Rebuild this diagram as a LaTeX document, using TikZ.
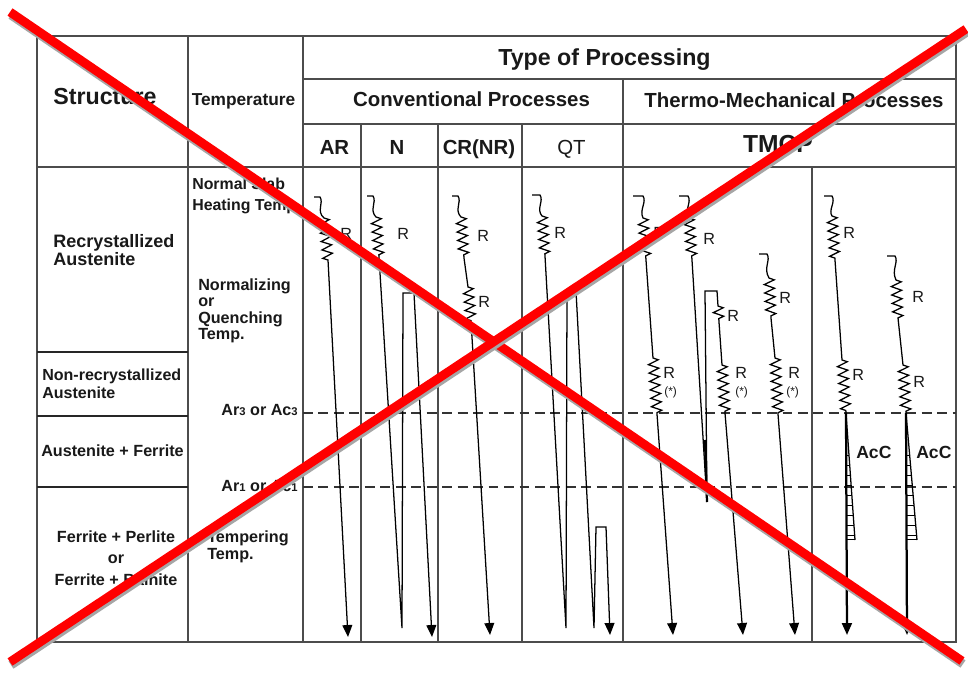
\documentclass[tikz,border=0pt]{standalone}
\usepackage{fontspec}
\setmainfont{Liberation Sans}
\usetikzlibrary{arrows.meta,decorations.pathmorphing}

\begin{document}
\begin{tikzpicture}[x=0.025cm,y=-0.025cm,>={Triangle[length=8.5pt,width=7pt]},
  grid/.style={draw=black!70,line width=0.9pt},
  sep/.style={draw=black!85,line width=2pt},
  lim/.style={draw=black!80,line width=1pt,dash pattern=on 7pt off 4pt},
  proc/.style={draw=black,line width=0.9pt},
  roll/.style={decoration={zigzag,segment length=6pt,amplitude=3.6pt}},
  every node/.append style={inner sep=0pt,text=black!90},
  big/.style={font=\bfseries\fontsize{16.5}{19}\selectfont},
  hd/.style={font=\bfseries\fontsize{14.5}{17}\selectfont},
  lbl/.style={font=\bfseries\fontsize{11.5}{13.5}\selectfont},
  rl/.style={font=\fontsize{11.5}{13}\selectfont,anchor=base west},
  star/.style={font=\fontsize{8.5}{10}\selectfont,anchor=base west},
  cross/.style={line width=6.3pt}]

\fill[white] (0,0) rectangle (968,675);
\useasboundingbox (0,0) rectangle (968,675);

% table
\draw[grid] (37,36) rectangle (956,642);
\draw[grid] (188,36) -- (188,642) (303,36) -- (303,642) (37,167) -- (956,167);
\draw[grid] (303,79) -- (956,79) (303,124) -- (956,124) (623,79) -- (623,642) (812,167) -- (812,642);
\foreach \x in {361,438,522} \draw[grid] (\x,124) -- (\x,642);
\foreach \y in {352,416,487} \draw[sep] (37,\y) -- (188,\y);
\draw[lim] (303,413) -- (956,413);
\draw[lim] (303,487) -- (956,487);

% headers
\node[big,anchor=base] (struct) at (105,105) {Structure};
\node[font=\bfseries\fontsize{12.3}{14}\selectfont,anchor=base] (temp) at (243.5,106) {Temperature};
\node[big,anchor=base] (type) at (604.5,66) {Type of Processing};
\node[hd,anchor=base] (conv) at (471.5,107) {Conventional Processes};
\node[hd,anchor=base] (thermo) at (794,108) {Thermo-Mechanical Processes};
\node[hd,anchor=base] (ar) at (334.5,155) {AR};
\node[hd,anchor=base] (n) at (397,155) {N};
\node[hd,anchor=base] (cr) at (479,155) {CR(NR)};
\node[font=\fontsize{14.5}{17}\selectfont,anchor=base] (qt) at (571.5,155) {QT};
\node[font=\bfseries\fontsize{17.5}{20}\selectfont,anchor=base] (tmcp) at (778,153) {TMCP};

% structures
\node[font=\bfseries\fontsize{12.8}{13.5}\selectfont,anchor=base west,align=left] (rex) at (53,266) {Recrystallized\\Austenite};
\node[font=\bfseries\fontsize{11.4}{13.5}\selectfont,anchor=base west,align=left] (nrex) at (42,399) {Non-recrystallized\\Austenite};
\node[lbl,anchor=base] (af) at (112.5,457) {Austenite + Ferrite};
\node[lbl,anchor=base,align=center,font=\bfseries\fontsize{11.5}{15}\selectfont] (fp) at (116,585) {Ferrite + Perlite\\or\\Ferrite + Bainite};

% temperatures
\node[lbl,anchor=base west,align=left,font=\bfseries\fontsize{11.3}{15.6}\selectfont] (slab) at (192,211) {Normal Slab\\Heating Temp.};
\node[lbl,anchor=base west,align=left,font=\bfseries\fontsize{11.5}{11.8}\selectfont] (norm) at (198,340) {Normalizing\\or\\Quenching\\Temp.};
\node[lbl,anchor=base east] (ar3) at (298,416) {Ar{\fontsize{8}{9}\selectfont3} or Ac{\fontsize{8}{9}\selectfont3}};
\node[lbl,anchor=base east] (ar1) at (298,491) {Ar{\fontsize{8}{9}\selectfont1} or Ac{\fontsize{8}{9}\selectfont1}};
\node[lbl,anchor=base west,align=left,font=\bfseries\fontsize{11.5}{11.4}\selectfont] (temper) at (207,559) {Tempering\\Temp.};

% conventional processes
\draw[proc,->] (314,197) -- (320,197) .. controls (324,203) and (316,211) .. (324,218) decorate[roll]{-- (328,260)} -- (348,637);
\draw[proc,->] (367,196) -- (373,196) .. controls (377,202) and (369,210) .. (376,217) decorate[roll]{-- (379,257)} -- (402,628) -- (403,293) -- (414,293) -- (432,637);
\draw[proc,->] (452,196) -- (458,196) .. controls (462,202) and (454,210) .. (461,217) decorate[roll]{-- (464,258)} -- (468,287) decorate[roll]{-- (471,321)} -- (490,635);
\draw[proc,->] (532,195) -- (540,195) .. controls (544,201) and (536,209) .. (542,216) decorate[roll]{-- (545,256)} -- (566,628) -- (567,291) -- (576,291) -- (594,628) -- (596,527) -- (606,527) -- (610,635);
\node[rl] (rar) at (340,240) {R};
\node[rl] (rn) at (397,240) {R};
\node[rl] (rcr1) at (477,242) {R};
\node[rl] (rcr2) at (478,308) {R};
\node[rl] (rqt) at (554,239) {R};

% TMCP
\draw[proc,->] (633,196) -- (643,196) .. controls (647,202) and (639,210) .. (643,218) decorate[roll]{-- (646,260)} -- (653,358) decorate[roll]{-- (657,414)} -- (673,635);
\draw[proc,->] (679,196) -- (688,196) .. controls (692,202) and (684,210) .. (689,218) decorate[roll]{-- (692,260)} -- (707,502) -- (705,291) -- (717,291) -- (718,306) decorate[roll]{-- (719,322)} -- (722,365) decorate[roll]{-- (725,413)} -- (743,635);
\draw[proc,line width=1.6pt] (705,440) -- (707,502);
\draw[proc,->] (759,254) -- (767,254) .. controls (771,260) and (763,268) .. (769,278) decorate[roll]{-- (771,318)} -- (775,358) decorate[roll]{-- (778,414)} -- (795,635);
\draw[proc] (824,196) -- (832,196) .. controls (836,202) and (828,210) .. (832,216) decorate[roll]{-- (835,260)} -- (842,360) decorate[roll]{-- (846,413)};
\draw[proc] (887,256) -- (895,256) .. controls (899,262) and (891,270) .. (896,280) decorate[roll]{-- (898,318)} -- (903,365) decorate[roll]{-- (906,413)};
\foreach \x/\w in {846/9,906/11}{
  \draw[proc,line width=1.6pt,->] (\x,413) -- (\x+1,635);
  \draw[proc] (\x,413) -- (\x+\w,540);
  \foreach \y in {455,465,...,535} \draw[proc,line width=0.7pt] (\x,\y) -- ({\x+\w*(\y-413)/127},\y);
  \draw[proc,line width=0.7pt] (\x,539) -- (\x+\w,539);
}
\node[rl] (rt1a) at (653,239) {R};
\node[rl] (rt1b) at (663,378) {R};
\node[star] (st1) at (664,396) {(*)};
\node[rl] (rt2a) at (703,245) {R};
\node[rl] (rt2b) at (727,322) {R};
\node[rl] (rt2c) at (735,378) {R};
\node[star] (st2) at (735,396) {(*)};
\node[rl] (rt3a) at (779,304) {R};
\node[rl] (rt3b) at (788,378) {R};
\node[star] (st3) at (786,396) {(*)};
\node[rl] (rt4a) at (843,239) {R};
\node[rl] (rt4b) at (852,380) {R};
\node[rl] (rt5a) at (912,303) {R};
\node[rl] (rt5b) at (913,388) {R};
\node[font=\bfseries\fontsize{12.5}{14}\selectfont,anchor=base west] (acc1) at (856,458) {AcC};
\node[font=\bfseries\fontsize{12.5}{14}\selectfont,anchor=base west] (acc2) at (916,458) {AcC};

% cross
\draw[cross,black!35] (11,15) -- (963,664);
\draw[cross,red] (10,12) -- (962,661);
\draw[cross,black!35] (11,665) -- (967,32);
\draw[cross,red] (10,662) -- (966,29);
\end{tikzpicture}
\end{document}
